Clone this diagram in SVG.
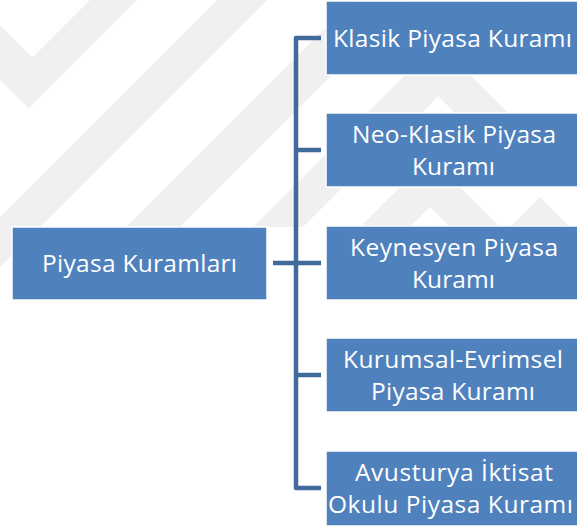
<svg xmlns="http://www.w3.org/2000/svg" width="577" height="526" viewBox="0 0 577 526">
<style>
.wm{fill:#f0f0f0}
.box{fill:#4f81bd;stroke:#ffffff;stroke-width:1.5}
.lbl{font-family:"Open Sans","Noto Sans","Liberation Sans",sans-serif;font-size:24.5px;fill:#ffffff;text-anchor:middle}
.con{fill:none;stroke:#40699c;stroke-width:4.5;stroke-linejoin:round;stroke-linecap:butt}
</style>
<rect width="577" height="526" fill="#ffffff"/>
<g id="watermark">
<polygon class="wm" points="0,25 32.5,57.5 90,0 137,0 28.5,108.5 0,80"/>
<polygon class="wm" points="217,0 267,0 0,267 0,217"/>
<polygon class="wm" points="353,0 407,0 180,227 126,227"/>
<polygon class="wm" points="480,0 530,0 303,227 253,227"/>
<polygon class="wm" points="340,145 440,45 560,165 507,165 438,96 393,145"/>
<polygon class="wm" points="360,227 430,157 500,227 450,227 430,207 410,227"/>
<polygon class="wm" points="510,227 540,197 577,234 577,227"/>
</g>
<g id="connectors">
<path class="con" d="M321,38 H296 V488 H321"/>
<path class="con" d="M273,263 H321"/>
<path class="con" d="M296,150 H321"/>
<path class="con" d="M296,375 H321"/>
</g>
<g id="root">
<rect class="box" x="12" y="227" width="255" height="73"/>
<text class="lbl" x="139.5" y="272" textLength="195">Piyasa Kuramları</text>
</g>
<g id="klasik">
<rect class="box" x="326" y="1" width="256" height="74"/>
<text class="lbl" x="452.5" y="47" textLength="239">Klasik Piyasa Kuramı</text>
</g>
<g id="neoklasik">
<rect class="box" x="326" y="113" width="256" height="74"/>
<text class="lbl" x="454" y="143" textLength="204">Neo-Klasik Piyasa</text>
<text class="lbl" x="453.5" y="175" textLength="83">Kuramı</text>
</g>
<g id="keynesyen">
<rect class="box" x="326" y="226" width="256" height="74"/>
<text class="lbl" x="454" y="256" textLength="208">Keynesyen Piyasa</text>
<text class="lbl" x="453.5" y="288" textLength="83">Kuramı</text>
</g>
<g id="kurumsal">
<rect class="box" x="326" y="338" width="256" height="74"/>
<text class="lbl" x="453" y="368" textLength="220">Kurumsal-Evrimsel</text>
<text class="lbl" x="453" y="400" textLength="164">Piyasa Kuramı</text>
</g>
<g id="avusturya">
<rect class="box" x="326" y="451" width="256" height="75"/>
<text class="lbl" x="454" y="481" textLength="198">Avusturya İktisat</text>
<text class="lbl" x="450.5" y="513" textLength="245">Okulu Piyasa Kuramı</text>
</g>
</svg>
